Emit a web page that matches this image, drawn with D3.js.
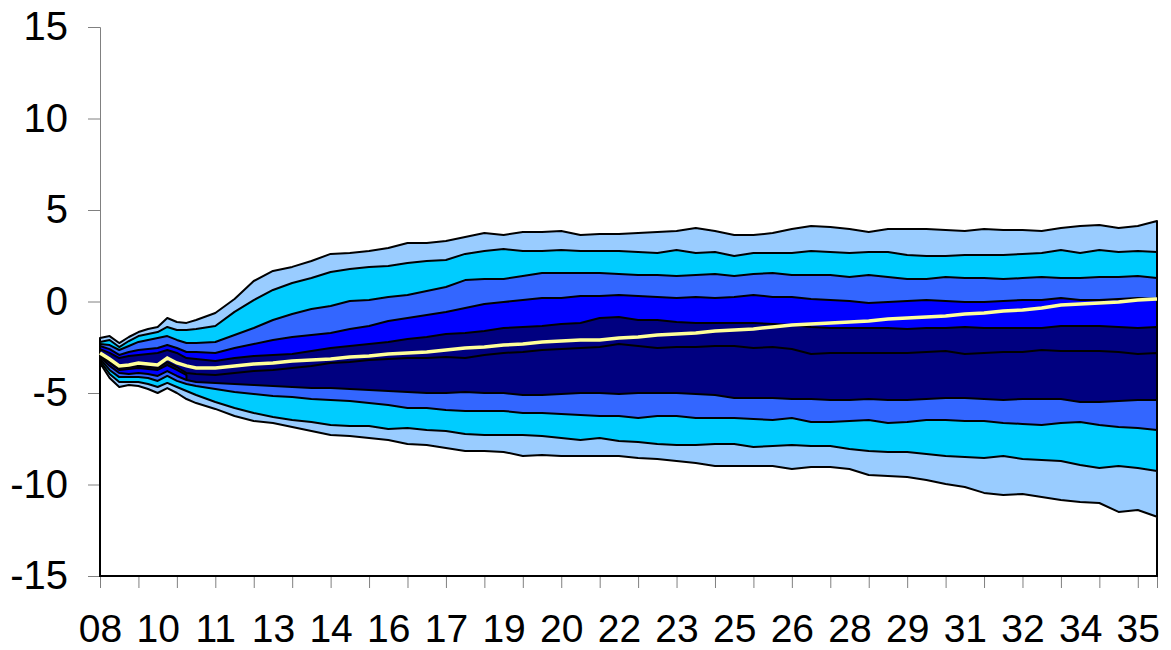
<!DOCTYPE html>
<html>
<head>
<meta charset="utf-8">
<script src="https://cdn.jsdelivr.net/npm/d3@7"></script>
<style>
  body { margin: 0; background: #fff; }
  .axis text { font-family: 'Liberation Sans', Arial, sans-serif; font-size: 40px; fill: #000; }
  .axis.labels text { font-size: 39px; }
  .axis path, .axis line { stroke: #808080; stroke-width: 1; }
</style>
</head>
<body>
<div id="chart"></div>
<script>
// quarterly sample points (every quarter early on, every second quarter after)
const periods = ['2008Q3','2008Q4','2009Q1','2009Q2','2009Q3','2009Q4','2010Q1','2010Q2','2010Q3','2010Q4','2011Q1',
  '2011Q3','2012Q1','2012Q3','2013Q1','2013Q3','2014Q1','2014Q3','2015Q1','2015Q3','2016Q1',
  '2016Q3','2017Q1','2017Q3','2018Q1','2018Q3','2019Q1','2019Q3','2020Q1','2020Q3','2021Q1',
  '2021Q3','2022Q1','2022Q3','2023Q1','2023Q3','2024Q1','2024Q3','2025Q1','2025Q3','2026Q1',
  '2026Q3','2027Q1','2027Q3','2028Q1','2028Q3','2029Q1','2029Q3','2030Q1','2030Q3','2031Q1',
  '2031Q3','2032Q1','2032Q3','2033Q1','2033Q3','2034Q1','2034Q3','2035Q1','2035Q3','2036Q1'];

const xLabels = ['08','10','11','13','14','16','17','19','20','22','23','25','26','28','29','31','32','34','35'];
const yTicks = [-15, -10, -5, 0, 5, 10, 15];

// band edges, top to bottom
const hi90 = [-1.99,-1.89,-2.27,-1.94,-1.67,-1.50,-1.39,-0.90,-1.12,-1.17,-1.01,
  -0.63,0.14,1.12,1.67,1.89,2.21,2.60,2.65,2.76,2.92,3.20,3.20,3.31,3.52,3.74,3.63,3.80,3.80,3.85,3.63,
  3.69,3.69,3.74,3.80,3.85,4.02,3.85,3.63,3.63,3.74,3.96,4.13,4.07,3.96,3.80,3.96,3.96,3.96,3.91,3.85,
  3.96,3.91,3.91,3.85,4.02,4.13,4.18,4.02,4.13,4.40];
const hi70 = [-2.21,-2.10,-2.49,-2.16,-1.89,-1.78,-1.67,-1.39,-1.56,-1.56,-1.50,
  -1.34,-0.57,0.08,0.63,1.01,1.28,1.61,1.78,1.89,1.94,2.10,2.21,2.27,2.60,2.76,2.87,2.76,2.76,2.81,2.76,
  2.76,2.76,2.70,2.65,2.81,2.65,2.70,2.49,2.65,2.65,2.65,2.76,2.70,2.65,2.70,2.70,2.54,2.49,2.49,2.54,
  2.54,2.54,2.60,2.65,2.81,2.65,2.81,2.70,2.76,2.70];
const hi50 = [-2.32,-2.38,-2.65,-2.43,-2.21,-2.10,-1.99,-1.89,-2.10,-2.27,-2.27,
  -2.21,-1.83,-1.45,-1.01,-0.68,-0.41,-0.25,0.03,0.08,0.25,0.36,0.57,0.79,1.17,1.23,1.23,1.39,1.56,1.56,1.56,
  1.56,1.50,1.45,1.45,1.39,1.45,1.50,1.39,1.50,1.56,1.45,1.45,1.45,1.34,1.45,1.34,1.23,1.23,1.34,1.28,
  1.28,1.23,1.28,1.34,1.28,1.28,1.34,1.34,1.39,1.28];
const hi30 = [-2.43,-2.60,-2.92,-2.76,-2.65,-2.60,-2.54,-2.38,-2.54,-2.76,-2.76,
  -2.81,-2.54,-2.32,-2.10,-1.94,-1.83,-1.72,-1.50,-1.34,-1.07,-0.90,-0.74,-0.57,-0.36,-0.14,-0.03,0.08,0.19,0.19,0.30,
  0.30,0.36,0.30,0.25,0.19,0.25,0.19,0.25,0.36,0.25,0.25,0.14,0.08,0.03,-0.08,-0.03,0.03,0.08,0.03,-0.03,
  -0.03,0.03,0.08,0.08,0.19,0.08,0.08,0.14,0.19,0.14];
const hi10 = [-2.60,-2.81,-3.09,-2.98,-2.92,-2.87,-2.81,-2.65,-2.81,-3.09,-3.14,
  -3.25,-3.09,-2.98,-2.92,-2.87,-2.70,-2.54,-2.43,-2.32,-2.21,-2.05,-1.94,-1.78,-1.72,-1.61,-1.45,-1.39,-1.34,-1.23,-1.17,
  -0.90,-0.85,-1.01,-1.01,-1.12,-1.17,-1.17,-1.17,-1.17,-1.23,-1.28,-1.39,-1.45,-1.45,-1.45,-1.45,-1.50,-1.45,-1.45,-1.39,
  -1.45,-1.45,-1.45,-1.45,-1.34,-1.34,-1.34,-1.39,-1.45,-1.39];
const mid = [-2.92,-3.25,-3.63,-3.58,-3.52,-3.58,-3.63,-3.31,-3.58,-3.91,-3.96,
  -4.02,-3.91,-3.80,-3.74,-3.63,-3.52,-3.36,-3.31,-3.20,-3.14,-3.09,-3.09,-3.03,-3.09,-2.92,-2.81,-2.76,-2.65,-2.60,-2.54,
  -2.49,-2.32,-2.43,-2.54,-2.49,-2.49,-2.43,-2.43,-2.54,-2.49,-2.60,-2.87,-2.81,-2.81,-2.81,-2.81,-2.81,-2.76,-2.70,-2.87,
  -2.81,-2.76,-2.76,-2.65,-2.70,-2.70,-2.70,-2.76,-2.87,-2.81];
// lower inner band only exists for the first ten quarters
const lo10 = [-2.98,-3.36,-3.74,-3.69,-3.63,-3.69,-3.74,-3.47,-3.74,-4.02];
const lo30 = [-3.03,-3.52,-3.91,-3.96,-3.91,-3.96,-4.07,-3.80,-4.07,-4.29,-4.40,
  -4.45,-4.51,-4.56,-4.62,-4.67,-4.73,-4.73,-4.78,-4.84,-4.89,-4.95,-5.00,-5.00,-4.95,-5.00,-5.00,-5.11,-5.11,-5.05,-5.00,
  -5.00,-5.05,-5.00,-5.00,-5.00,-5.05,-5.11,-5.27,-5.27,-5.27,-5.33,-5.33,-5.38,-5.38,-5.33,-5.38,-5.38,-5.33,-5.27,-5.27,
  -5.33,-5.38,-5.33,-5.33,-5.33,-5.49,-5.49,-5.44,-5.38,-5.38];
const lo50 = [-3.14,-3.74,-4.13,-4.13,-4.13,-4.18,-4.34,-4.07,-4.34,-4.51,-4.62,
  -4.78,-4.95,-5.05,-5.16,-5.22,-5.33,-5.38,-5.44,-5.55,-5.66,-5.82,-5.82,-5.93,-5.98,-5.98,-5.98,-6.09,-6.09,-6.15,-6.20,
  -6.26,-6.26,-6.37,-6.26,-6.26,-6.37,-6.37,-6.37,-6.42,-6.48,-6.37,-6.58,-6.58,-6.53,-6.48,-6.64,-6.58,-6.48,-6.48,-6.53,
  -6.53,-6.64,-6.69,-6.75,-6.64,-6.58,-6.75,-6.86,-6.91,-7.02];
const lo70 = [-3.25,-3.96,-4.40,-4.40,-4.40,-4.51,-4.67,-4.45,-4.67,-4.89,-5.11,
  -5.49,-5.82,-6.09,-6.31,-6.48,-6.58,-6.75,-6.80,-6.80,-6.97,-6.91,-7.02,-7.08,-7.24,-7.30,-7.30,-7.30,-7.35,-7.46,-7.57,
  -7.46,-7.62,-7.68,-7.79,-7.84,-7.84,-7.79,-7.79,-7.95,-7.90,-7.84,-7.90,-7.90,-8.06,-8.17,-8.22,-8.22,-8.33,-8.44,-8.50,
  -8.55,-8.44,-8.61,-8.66,-8.72,-8.93,-9.10,-8.99,-9.10,-9.26];
const lo90 = [-3.36,-4.18,-4.67,-4.56,-4.62,-4.78,-5.00,-4.73,-5.00,-5.33,-5.55,
  -5.87,-6.26,-6.53,-6.64,-6.86,-7.08,-7.30,-7.35,-7.46,-7.57,-7.79,-7.84,-8.01,-8.17,-8.17,-8.22,-8.44,-8.39,-8.44,-8.44,
  -8.44,-8.44,-8.55,-8.61,-8.72,-8.83,-8.99,-8.99,-8.99,-8.99,-9.15,-9.04,-9.04,-9.15,-9.48,-9.54,-9.59,-9.75,-9.97,-10.14,
  -10.46,-10.57,-10.52,-10.68,-10.85,-10.96,-11.01,-11.50,-11.39,-11.76];
// central projection (yellow)
const central = [-2.81,-3.14,-3.52,-3.47,-3.36,-3.42,-3.47,-3.09,-3.36,-3.52,-3.63,
  -3.63,-3.52,-3.42,-3.36,-3.25,-3.20,-3.14,-3.03,-2.98,-2.87,-2.81,-2.76,-2.65,-2.54,-2.49,-2.38,-2.32,-2.21,-2.16,-2.10,
  -2.10,-1.99,-1.94,-1.83,-1.78,-1.72,-1.61,-1.56,-1.50,-1.39,-1.28,-1.23,-1.17,-1.12,-1.07,-0.96,-0.90,-0.85,-0.79,-0.68,
  -0.63,-0.52,-0.46,-0.36,-0.19,-0.14,-0.08,-0.03,0.08,0.14];

// quarter index from 2008Q3
const qIdx = periods.map(p => (+p.slice(0, 4) - 2008) * 4 + (+p.slice(5) - 3));

const margin = {left: 100, top: 27};
const width = 1057,
      height = 549;

const x = d3.scaleLinear().domain([0, 110]).range([0, width]);
const y = d3.scaleLinear().domain([-15, 15]).range([height, 0]);

const svg = d3.select('#chart').append('svg').attr('width', 1171).attr('height', 650);
const g = svg.append('g').attr('transform', 'translate(' + margin.left + ',' + margin.top + ')');

// axes underneath, the series outlines paint over them like in the spreadsheet
// plain hyphen for negatives, as in the original
g.append('g').attr('class', 'axis y')
    .call(d3.axisLeft(y).tickValues(yTicks).tickSize(12).tickPadding(20).tickFormat(d => String(d)));

g.append('g').attr('class', 'axis x')
    .attr('transform', 'translate(0,' + height + ')')
    .call(d3.axisBottom(x).tickValues(d3.range(0, 109, 4)).tickSize(12).tickFormat(''));

// labels every 6 quarters, kept just inside the bottom edge
g.append('g').attr('class', 'axis x labels')
    .attr('transform', 'translate(0,' + height + ')')
    .call(d3.axisBottom(x).tickValues(d3.range(0, 109, 6)).tickSize(0).tickPadding(38)
        .tickFormat((d, i) => xLabels[i]))
    .call(s => s.select('.domain').remove());

// stacked-style fills: each area runs from the floor up to its edge, widest first
const layers = [
  {vals: hi90, fill: '#99CCFF'},
  {vals: hi70, fill: '#00CCFF'},
  {vals: hi50, fill: '#3366FF'},
  {vals: hi30, fill: '#0000FF'},
  {vals: hi10, fill: '#000080'},
  {vals: mid,  fill: '#000080'},
  {vals: lo10, fill: '#0000FF'},
  {vals: lo30, fill: '#3366FF'},
  {vals: lo50, fill: '#00CCFF'},
  {vals: lo70, fill: '#99CCFF'},
  {vals: lo90, fill: '#FFFFFF'}
];

const area = d3.area()
    .x((d, i) => x(qIdx[i]))
    .y0(height)
    .y1(d => y(d));

g.selectAll('path.band').data(layers).join('path')
    .attr('class', 'band')
    .attr('d', d => area(d.vals))
    .attr('fill', d => d.fill)
    .attr('stroke', '#000')
    .attr('stroke-width', 2)
    .attr('stroke-linejoin', 'round');

const line = d3.line()
    .x((d, i) => x(qIdx[i]))
    .y(d => y(d));

g.append('path')
    .attr('d', line(central))
    .attr('fill', 'none')
    .attr('stroke', '#FFFF99')
    .attr('stroke-width', 3.5);
</script>
</body>
</html>
